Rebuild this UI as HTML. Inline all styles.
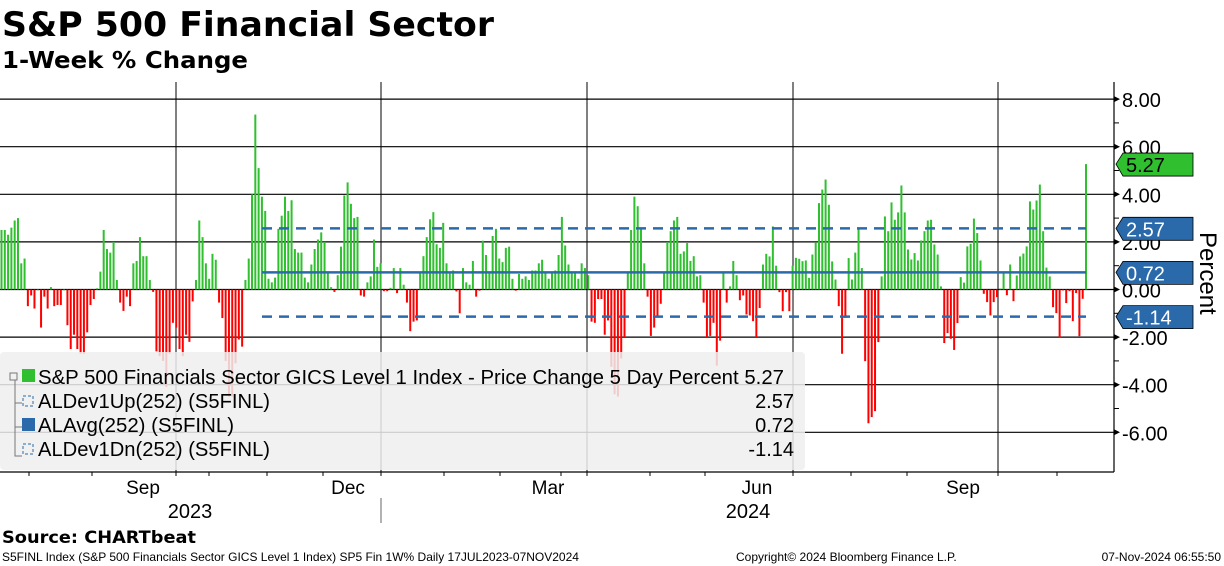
<!DOCTYPE html>
<html><head><meta charset="utf-8"><style>
body{margin:0;background:#fff;width:1224px;height:566px;overflow:hidden;font-family:"Liberation Sans",sans-serif}
svg{position:absolute;left:0;top:0}
</style></head><body>
<svg id="c" width="1224" height="566">
<text x="2" y="36" font-size="34" font-weight="bold" font-family="DejaVu Sans, sans-serif" textLength="492" lengthAdjust="spacingAndGlyphs">S&amp;P 500 Financial Sector</text>
<text x="2" y="68" font-size="23" font-weight="bold" font-family="DejaVu Sans, sans-serif" textLength="246" lengthAdjust="spacingAndGlyphs">1-Week % Change</text>
<g id="grid"></g><g id="bars"></g><g id="lines"></g>
<g id="legend">
<rect x="0" y="352" width="805" height="118" rx="4" fill="rgba(238,238,238,0.85)"/>
<rect x="10" y="373" width="7" height="7" fill="none" stroke="#777"/>
<path d="M15 380 V456 H22 M15 403 H22 M15 427 H22" stroke="#777" fill="none"/>
<rect x="22" y="369" width="13" height="13" fill="#2fbf2f"/>
<text x="38" y="384" font-size="20" textLength="746" lengthAdjust="spacingAndGlyphs">S&amp;P 500 Financials Sector GICS Level 1 Index - Price Change 5 Day Percent 5.27</text>
<rect x="23" y="396" width="10" height="10" fill="none" stroke="#2a6aab" stroke-dasharray="3 2"/>
<text x="38" y="408" font-size="20" textLength="232" lengthAdjust="spacingAndGlyphs">ALDev1Up(252) (S5FINL)</text><text x="794" y="408" font-size="20" text-anchor="end">2.57</text>
<rect x="22" y="418" width="13" height="13" fill="#2a6aab"/>
<text x="38" y="432" font-size="20" textLength="196" lengthAdjust="spacingAndGlyphs">ALAvg(252) (S5FINL)</text><text x="794" y="432" font-size="20" text-anchor="end">0.72</text>
<rect x="23" y="444" width="10" height="10" fill="none" stroke="#2a6aab" stroke-dasharray="3 2"/>
<text x="38" y="456" font-size="20" textLength="232" lengthAdjust="spacingAndGlyphs">ALDev1Dn(252) (S5FINL)</text><text x="794" y="456" font-size="20" text-anchor="end">-1.14</text>
</g>
<g id="axes"></g>
<text x="2" y="543" font-size="17" font-weight="bold" font-family="DejaVu Sans, sans-serif" textLength="194" lengthAdjust="spacingAndGlyphs">Source: CHARTbeat</text>
<text x="2" y="561" font-size="12">S5FINL Index (S&amp;P 500 Financials Sector GICS Level 1 Index) SP5 Fin 1W%  Daily 17JUL2023-07NOV2024</text>
<text x="736" y="561" font-size="12">Copyright© 2024 Bloomberg Finance L.P.</text>
<text x="1221" y="561" font-size="12" text-anchor="end">07-Nov-2024 06:55:50</text>
</svg>
<script>
const values=[2.5,2.5,2.3,2.6,2.9,3.0,1.1,1.3,-0.7,-0.25,-0.8,0,-1.6,-0.3,-0.8,0.1,-0.7,-0.65,-0.65,0,-1.5,-2.5,-1.9,-2.5,-2.7,-2.7,-1.8,-0.65,-0.4,0.05,0.75,2.5,1.7,1.55,2.0,0.4,-0.55,-0.9,-0.3,-0.7,1.1,1.2,2.2,1.4,1.4,0.4,-0.1,-2.6,-2.8,-3.0,-4.1,-2.7,-1.4,-1.6,-2.5,-2.8,-1.9,-2.2,-0.5,0.4,2.9,2.2,1.1,0.45,1.5,1.25,-0.55,-1.2,-3.0,-4.5,-4.5,-3.1,-2.1,-2.4,0.4,1.3,4.0,7.35,5.1,3.9,3.3,0.45,0.3,0.5,2.55,3.1,3.9,3.3,3.75,1.7,1.55,1.55,0.5,0.3,1.05,1.7,2.1,2.4,2.0,0.7,0.1,-0.1,0.6,1.8,3.95,4.5,3.6,3.0,3.05,-0.25,-0.3,0.3,0.55,2.1,
0.95,1.1,-0.07,-0.07,0.07,0.9,-0.15,0.9,0.2,-0.55,-1.75,-1.35,-1.3,0.7,1.4,2.2,2.95,3.25,1.9,1.75,2.8,1.1,0.7,0.8,-0.08,-1.0,0.9,0.3,0.2,1.2,-0.3,-0.05,2.05,1.45,0.7,2.25,2.55,1.3,1.15,1.75,1.8,0.45,-0.05,0.65,0.45,0.55,0.4,0.8,0.8,1.1,1.25,0.7,0.45,0.7,0.8,1.45,3.05,1.85,1.05,0.75,0.7,0.45,1.1,0.9,0.6,-1.35,-1.4,-0.4,-0.4,-1.9,-1.3,-3.25,-4.4,-4.5,-2.9,-2.0,0.7,2.5,3.9,3.5,2.6,1.1,-0.3,-1.95,-1.6,-1.15,-0.6,0.7,2.0,2.45,2.9,3.05,1.5,1.6,1.95,1.2,1.4,0.55,0.6,-0.55,-2.0,-1.95,-1.4,-3.2,-2.15,0.7,-0.55,0.13,1.2,0.6,-0.45,-0.25,-1.05,
-1.09,-1.33,-2.0,-0.78,1.05,1.5,1.39,2.65,1.0,-0.11,-0.91,-0.11,-0.91,1.0,1.33,1.29,1.19,1.22,0.49,1.47,1.99,3.63,4.2,4.62,3.56,1.18,0.42,-0.7,-2.7,-1.19,1.32,0.42,1.55,2.55,0.9,-3.01,-5.62,-5.36,-5.11,-2.21,0.55,3.07,2.45,3.66,2.93,3.24,4.37,3.24,1.68,1.26,1.53,1.22,2.06,2.45,2.9,2.93,1.89,1.47,0.13,-2.25,-1.83,-2.07,-2.54,-1.41,0.52,0.29,1.81,1.92,2.98,2.37,1.22,-0.18,-0.53,-1.09,-0.53,-0.32,0.04,0.7,-0.24,1.05,-0.49,0.59,1.39,1.51,1.81,3.7,3.36,3.74,4.41,2.45,0.92,0.55,-0.74,-0.99,-2.03,-0.04,-0.57,-0.07,-1.33,-0.15,-1.96,-0.39,5.27];
const yTicks=[8,6,4,2,0,-2,-4,-6];
const bands=[2.57,0.72,-1.14];
const monthLabels=["Sep","Dec","Mar","Jun","Sep"];
const yearLabels=["2023","2024"];
const NS="http://www.w3.org/2000/svg";
const Y0=289.5,PU=23.8,X0=1.5,X1=1086;
const y=v=>Y0-v*PU;
const x=i=>X0+i*(X1-X0)/(values.length-1);
function mk(p,t,a){const e=document.createElementNS(NS,t);for(const k in a)e.setAttribute(k,a[k]);document.getElementById(p).appendChild(e);return e;}
yTicks.forEach(t=>{const l=mk('grid','line',{x1:0,x2:1114,y1:y(t),y2:y(t),stroke:'#000','stroke-width':1.2});


const tx=mk('axes','text',{x:1122,y:y(t)+8,'font-size':20});tx.textContent=t.toFixed(2);


mk('axes','path',{d:`M1114 ${y(t)-3} L1120 ${y(t)} L1114 ${y(t)+3}Z`,fill:'#000'});
if(t<8)mk('axes','line',{x1:1114,x2:1119,y1:y(t+1),y2:y(t+1),stroke:'#000'});});
[176,381,587,793,998].forEach(gx=>{const l=mk('grid','line',{x1:gx,x2:gx,y1:82,y2:472,stroke:'#000','stroke-width':1});

});
values.forEach((v,i)=>{const r=mk('bars','rect',{x:x(i)-1,width:2,y:Math.min(y(v),Y0),height:Math.max(Math.abs(v*PU),0.8),fill:v>=0?'#2fbf2f':'#ff0000'});

});
bands.forEach((b,k)=>{const l=mk('lines','line',{x1:262,x2:x(values.length-1),y1:y(b),y2:y(b),stroke:'#2a6aab','stroke-width':2.5,'stroke-dasharray':k==1?'none':'10 7'});

});
mk('axes','line',{x1:1114,x2:1114,y1:82,y2:472,stroke:'#000','stroke-width':1.2});
mk('axes','line',{x1:0,x2:1114,y1:472,y2:472,stroke:'#000','stroke-width':1.2});
[29,92,176,209,267,323,381,444,500,561,587,650,705,793,851,907,998,1057].forEach(tx=>mk('axes','line',{x1:tx,x2:tx,y1:472,y2:476,stroke:'#000'}));
mk('axes','line',{x1:381,x2:381,y1:498,y2:523,stroke:'#666'});
[143,348,548,757,963].forEach((mx,i)=>{const t=mk('axes','text',{x:mx,y:494,'font-size':19,'text-anchor':'middle'});t.textContent=monthLabels[i];

});
[190,748].forEach((mx,i)=>{const t=mk('axes','text',{x:mx,y:518,'font-size':20,'text-anchor':'middle'});t.textContent=yearLabels[i];

});
[[values[values.length-1],'#2fbf2f','#000'],[bands[0],'#2a6aab','#fff'],[bands[1],'#2a6aab','#fff'],[bands[2],'#2a6aab','#fff']].forEach(([v,c,tc])=>{
const ty=y(v);const g=mk('axes','path',{d:`M1116 ${ty} L1123 ${ty-11} H1193 V${ty+12} H1123Z`,fill:c,stroke:'#000','stroke-width':0.8});


const t=mk('axes','text',{x:1126,y:ty+8,'font-size':20,fill:tc});t.textContent=v.toFixed(2);});
const p=mk('axes','text',{x:0,y:0,'font-size':24,transform:'translate(1200,232) rotate(90)'});p.textContent='Percent';


</script>
</body></html>
